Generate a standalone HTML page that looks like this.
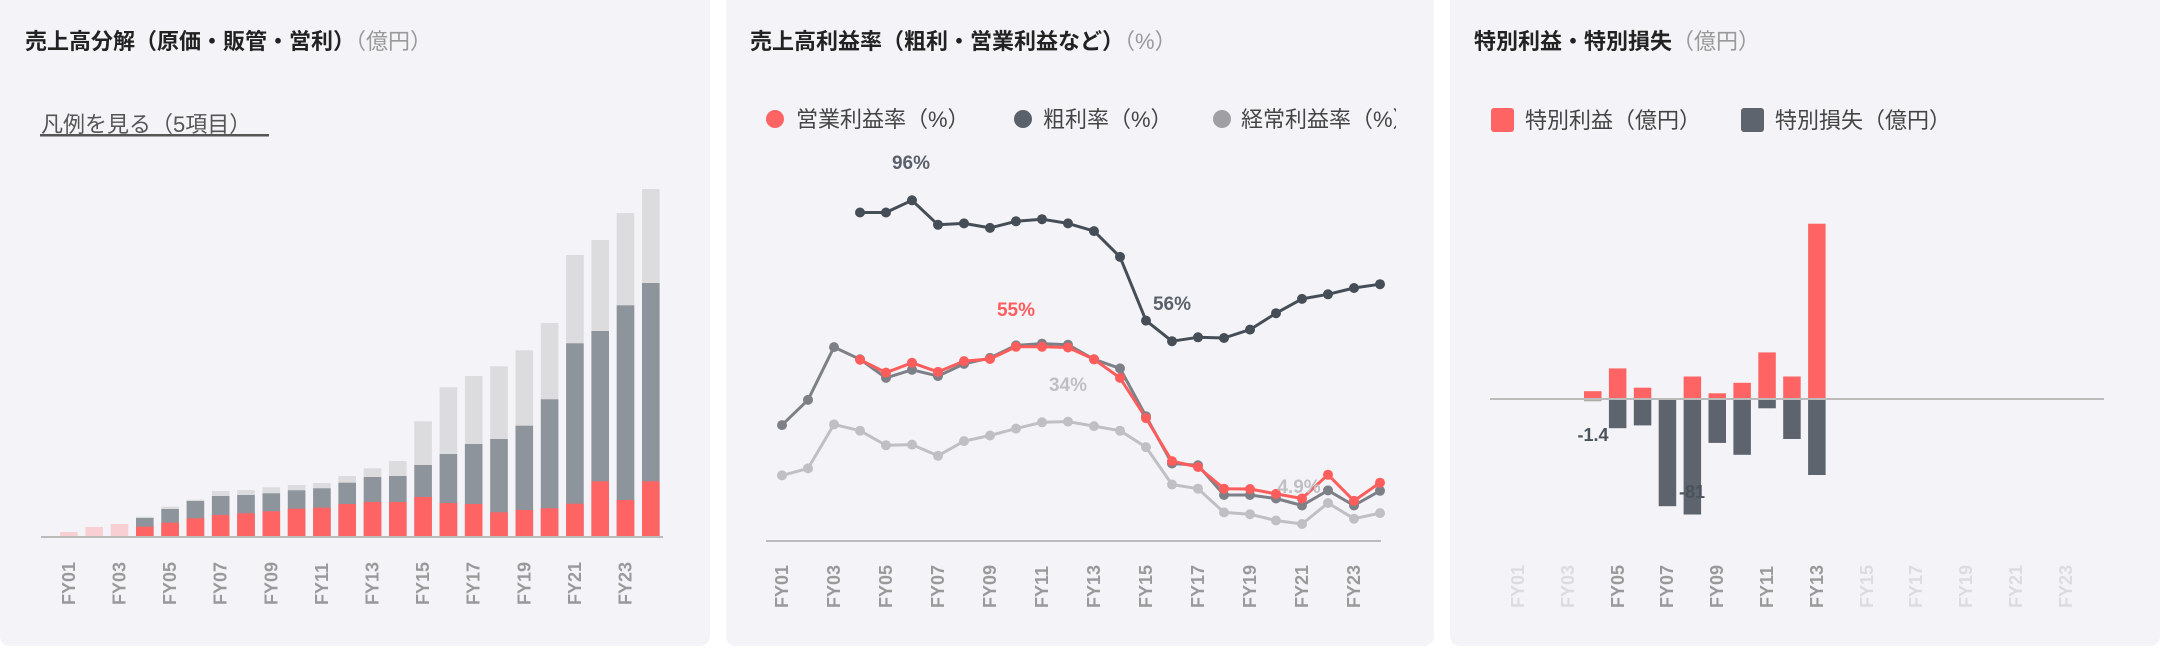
<!DOCTYPE html>
<html><head><meta charset="utf-8"><style>
html,body{margin:0;padding:0;background:#fff;}
svg{display:block;}
text{font-family:"Liberation Sans","Noto Sans CJK JP",sans-serif;}
</style></head><body>
<svg width="2160" height="648" viewBox="0 0 2160 648" xmlns="http://www.w3.org/2000/svg">
<rect x="0" y="-10" width="710" height="656" rx="10" fill="#f4f4f8"/>
<rect x="726" y="-10" width="708" height="656" rx="10" fill="#f4f4f8"/>
<rect x="1450" y="-10" width="710" height="656" rx="10" fill="#f4f4f8"/>

<!-- Panel 1 -->
<text x="25" y="49" font-size="22" font-weight="bold" fill="#222">売上高分解（原価・販管・営利）<tspan font-weight="normal" fill="#999">（億円）</tspan></text>
<text x="41" y="132" font-size="22" fill="#555">凡例を見る（5項目）</text>
<rect x="40" y="134" width="229" height="2.5" fill="#555"/>
<g fill="#f8d0d4">
<rect x="60.1" y="532" width="17.6" height="4.5"/><rect x="85.4" y="527" width="17.6" height="9.5"/><rect x="110.7" y="524" width="17.6" height="12.5"/>
</g>
<g fill="#dcdcde">
<rect x="136.0" y="516.7" width="17.6" height="20"/><rect x="161.3" y="506.7" width="17.6" height="30"/><rect x="186.6" y="499.7" width="17.6" height="37"/><rect x="211.9" y="491" width="17.6" height="46"/><rect x="237.2" y="490" width="17.6" height="47"/><rect x="262.5" y="487.3" width="17.6" height="49"/><rect x="287.8" y="485" width="17.6" height="52"/><rect x="313.1" y="483" width="17.6" height="54"/><rect x="338.4" y="476" width="17.6" height="61"/><rect x="363.7" y="468.3" width="17.6" height="68"/><rect x="389.0" y="461" width="17.6" height="76"/><rect x="414.3" y="421.3" width="17.6" height="115"/><rect x="439.6" y="387.3" width="17.6" height="149"/><rect x="464.9" y="376" width="17.6" height="160"/><rect x="490.2" y="366.3" width="17.6" height="170"/><rect x="515.5" y="350.3" width="17.6" height="186"/><rect x="540.8" y="323" width="17.6" height="213"/><rect x="566.1" y="255" width="17.6" height="281"/><rect x="591.4" y="240" width="17.6" height="296"/><rect x="616.7" y="213" width="17.6" height="323"/><rect x="642.0" y="189" width="17.6" height="347"/>
</g>
<g fill="#8e949b">
<rect x="136.0" y="518" width="17.6" height="18"/><rect x="161.3" y="509" width="17.6" height="27"/><rect x="186.6" y="501" width="17.6" height="35"/><rect x="211.9" y="496" width="17.6" height="40"/><rect x="237.2" y="495" width="17.6" height="41"/><rect x="262.5" y="493.3" width="17.6" height="43"/><rect x="287.8" y="490.3" width="17.6" height="46"/><rect x="313.1" y="488.3" width="17.6" height="48"/><rect x="338.4" y="482.7" width="17.6" height="54"/><rect x="363.7" y="477" width="17.6" height="60"/><rect x="389.0" y="476" width="17.6" height="61"/><rect x="414.3" y="465" width="17.6" height="72"/><rect x="439.6" y="454" width="17.6" height="83"/><rect x="464.9" y="444" width="17.6" height="93"/><rect x="490.2" y="439" width="17.6" height="98"/><rect x="515.5" y="425.7" width="17.6" height="111"/><rect x="540.8" y="399.3" width="17.6" height="137"/><rect x="566.1" y="343.3" width="17.6" height="193"/><rect x="591.4" y="331" width="17.6" height="205"/><rect x="616.7" y="305.3" width="17.6" height="231"/><rect x="642.0" y="283" width="17.6" height="253"/>
</g>
<g fill="#ff6464">
<rect x="136.0" y="526.7" width="17.6" height="10"/><rect x="161.3" y="522.7" width="17.6" height="14"/><rect x="186.6" y="518.3" width="17.6" height="18"/><rect x="211.9" y="515" width="17.6" height="21.5"/><rect x="237.2" y="513.3" width="17.6" height="23.2"/><rect x="262.5" y="511.3" width="17.6" height="25.2"/><rect x="287.8" y="508.7" width="17.6" height="27.8"/><rect x="313.1" y="507.7" width="17.6" height="28.8"/><rect x="338.4" y="504" width="17.6" height="32.5"/><rect x="363.7" y="502" width="17.6" height="34.5"/><rect x="389.0" y="502" width="17.6" height="34.5"/><rect x="414.3" y="497" width="17.6" height="39.5"/><rect x="439.6" y="503" width="17.6" height="33.5"/><rect x="464.9" y="504" width="17.6" height="32.5"/><rect x="490.2" y="512.3" width="17.6" height="24.2"/><rect x="515.5" y="510" width="17.6" height="26.5"/><rect x="540.8" y="508.3" width="17.6" height="28.2"/><rect x="566.1" y="503.7" width="17.6" height="32.8"/><rect x="591.4" y="481.3" width="17.6" height="55.2"/><rect x="616.7" y="500" width="17.6" height="36.5"/><rect x="642.0" y="481.3" width="17.6" height="55.2"/>
</g>
<rect x="41" y="536" width="622" height="2" fill="#bbb"/>
<g font-size="18" font-weight="bold" fill="#999">
<text transform="translate(75,605) rotate(-90)">FY01</text><text transform="translate(125.5,605) rotate(-90)">FY03</text><text transform="translate(176.1,605) rotate(-90)">FY05</text><text transform="translate(226.7,605) rotate(-90)">FY07</text><text transform="translate(277.3,605) rotate(-90)">FY09</text><text transform="translate(327.9,605) rotate(-90)">FY11</text><text transform="translate(378.5,605) rotate(-90)">FY13</text><text transform="translate(429.1,605) rotate(-90)">FY15</text><text transform="translate(479.7,605) rotate(-90)">FY17</text><text transform="translate(530.3,605) rotate(-90)">FY19</text><text transform="translate(580.9,605) rotate(-90)">FY21</text><text transform="translate(631.5,605) rotate(-90)">FY23</text>
</g>

<!-- Panel 2 -->
<text x="750" y="49" font-size="22" font-weight="bold" fill="#222">売上高利益率（粗利・営業利益など）<tspan font-weight="normal" fill="#999">（%）</tspan></text>
<svg x="726" y="95" width="670" height="50" overflow="hidden">
<g font-size="22" fill="#444">
<circle cx="49" cy="24" r="9" fill="#ff6464"/><text x="70" y="32">営業利益率（%）</text>
<circle cx="297" cy="24" r="9" fill="#5a616b"/><text x="317" y="32">粗利率（%）</text>
<circle cx="496" cy="24" r="9" fill="#a0a0a4"/><text x="515" y="32">経常利益率（%）</text>
</g>
</svg>
<rect x="766" y="540" width="615" height="2" fill="#bbb"/>
<g fill="none" stroke-width="3" stroke-linejoin="round">
<polyline stroke="#c0c0c4" points="782,475.4 808,468.4 834,424.4 860,430.7 886,445.3 912,444.6 938,455.8 964,441.1 990,435.5 1016,428.6 1042,422.3 1068,421.6 1094,426.1 1120,430.7 1146,447.1 1172,484.5 1198,488.7 1224,512.4 1250,514.2 1276,520.5 1302,524 1328,503 1354,518.7 1380,513.1"/>
<polyline stroke="#7d8086" points="782,425.1 808,399.9 834,347.1 860,359.3 886,377.9 912,369.8 938,376.1 964,363.9 990,357.9 1016,345.4 1042,343.6 1068,344.7 1094,359.3 1120,368.4 1146,416.3 1172,463.5 1198,465.3 1224,495 1250,495 1276,498.5 1302,505.5 1328,490.4 1354,505.5 1380,490.8"/>
<polyline stroke="#454d57" points="860,212.5 886,212.5 912,200.3 938,224.8 964,223.4 990,227.9 1016,221.3 1042,219.2 1068,223.4 1094,231.1 1120,256.9 1146,320.6 1172,341.2 1198,337.3 1224,338 1250,329.6 1276,313.2 1302,298.9 1328,294.3 1354,288 1380,284.2"/>
<polyline stroke="#ff5c5c" points="860,359.7 886,372.6 912,362.8 938,371.9 964,361.1 990,359 1016,346.8 1042,346.8 1068,347.5 1094,359.3 1120,377.9 1146,418.1 1172,461.1 1198,467 1224,488.7 1250,489 1276,493.9 1302,498.5 1328,474.7 1354,500.9 1380,482.7"/>
</g>
<g fill="#c0c0c4"><circle cx="782" cy="475.4" r="5"/><circle cx="808" cy="468.4" r="5"/><circle cx="834" cy="424.4" r="5"/><circle cx="860" cy="430.7" r="5"/><circle cx="886" cy="445.3" r="5"/><circle cx="912" cy="444.6" r="5"/><circle cx="938" cy="455.8" r="5"/><circle cx="964" cy="441.1" r="5"/><circle cx="990" cy="435.5" r="5"/><circle cx="1016" cy="428.6" r="5"/><circle cx="1042" cy="422.3" r="5"/><circle cx="1068" cy="421.6" r="5"/><circle cx="1094" cy="426.1" r="5"/><circle cx="1120" cy="430.7" r="5"/><circle cx="1146" cy="447.1" r="5"/><circle cx="1172" cy="484.5" r="5"/><circle cx="1198" cy="488.7" r="5"/><circle cx="1224" cy="512.4" r="5"/><circle cx="1250" cy="514.2" r="5"/><circle cx="1276" cy="520.5" r="5"/><circle cx="1302" cy="524" r="5"/><circle cx="1328" cy="503" r="5"/><circle cx="1354" cy="518.7" r="5"/><circle cx="1380" cy="513.1" r="5"/></g>
<g fill="#7d8086"><circle cx="782" cy="425.1" r="5"/><circle cx="808" cy="399.9" r="5"/><circle cx="834" cy="347.1" r="5"/><circle cx="860" cy="359.3" r="5"/><circle cx="886" cy="377.9" r="5"/><circle cx="912" cy="369.8" r="5"/><circle cx="938" cy="376.1" r="5"/><circle cx="964" cy="363.9" r="5"/><circle cx="990" cy="357.9" r="5"/><circle cx="1016" cy="345.4" r="5"/><circle cx="1042" cy="343.6" r="5"/><circle cx="1068" cy="344.7" r="5"/><circle cx="1094" cy="359.3" r="5"/><circle cx="1120" cy="368.4" r="5"/><circle cx="1146" cy="416.3" r="5"/><circle cx="1172" cy="463.5" r="5"/><circle cx="1198" cy="465.3" r="5"/><circle cx="1224" cy="495" r="5"/><circle cx="1250" cy="495" r="5"/><circle cx="1276" cy="498.5" r="5"/><circle cx="1302" cy="505.5" r="5"/><circle cx="1328" cy="490.4" r="5"/><circle cx="1354" cy="505.5" r="5"/><circle cx="1380" cy="490.8" r="5"/></g>
<g fill="#454d57"><circle cx="860" cy="212.5" r="5"/><circle cx="886" cy="212.5" r="5"/><circle cx="912" cy="200.3" r="5"/><circle cx="938" cy="224.8" r="5"/><circle cx="964" cy="223.4" r="5"/><circle cx="990" cy="227.9" r="5"/><circle cx="1016" cy="221.3" r="5"/><circle cx="1042" cy="219.2" r="5"/><circle cx="1068" cy="223.4" r="5"/><circle cx="1094" cy="231.1" r="5"/><circle cx="1120" cy="256.9" r="5"/><circle cx="1146" cy="320.6" r="5"/><circle cx="1172" cy="341.2" r="5"/><circle cx="1198" cy="337.3" r="5"/><circle cx="1224" cy="338" r="5"/><circle cx="1250" cy="329.6" r="5"/><circle cx="1276" cy="313.2" r="5"/><circle cx="1302" cy="298.9" r="5"/><circle cx="1328" cy="294.3" r="5"/><circle cx="1354" cy="288" r="5"/><circle cx="1380" cy="284.2" r="5"/></g>
<g fill="#ff5c5c"><circle cx="860" cy="359.7" r="5"/><circle cx="886" cy="372.6" r="5"/><circle cx="912" cy="362.8" r="5"/><circle cx="938" cy="371.9" r="5"/><circle cx="964" cy="361.1" r="5"/><circle cx="990" cy="359" r="5"/><circle cx="1016" cy="346.8" r="5"/><circle cx="1042" cy="346.8" r="5"/><circle cx="1068" cy="347.5" r="5"/><circle cx="1094" cy="359.3" r="5"/><circle cx="1120" cy="377.9" r="5"/><circle cx="1146" cy="418.1" r="5"/><circle cx="1172" cy="461.1" r="5"/><circle cx="1198" cy="467" r="5"/><circle cx="1224" cy="488.7" r="5"/><circle cx="1250" cy="489" r="5"/><circle cx="1276" cy="493.9" r="5"/><circle cx="1302" cy="498.5" r="5"/><circle cx="1328" cy="474.7" r="5"/><circle cx="1354" cy="500.9" r="5"/><circle cx="1380" cy="482.7" r="5"/></g>
<g font-size="19" font-weight="bold" text-anchor="middle">
<text x="911" y="169" fill="#5a616b">96%</text>
<text x="1016" y="316" fill="#ff5c5c">55%</text>
<text x="1068" y="391" fill="#c0c0c4">34%</text>
<text x="1172" y="310" fill="#5a616b">56%</text>
<text x="1299" y="493" fill="#c0c0c4">4.9%</text>
</g>
<g font-size="18" font-weight="bold" fill="#999">
<text transform="translate(788,608) rotate(-90)">FY01</text><text transform="translate(840,608) rotate(-90)">FY03</text><text transform="translate(892,608) rotate(-90)">FY05</text><text transform="translate(944,608) rotate(-90)">FY07</text><text transform="translate(996,608) rotate(-90)">FY09</text><text transform="translate(1048,608) rotate(-90)">FY11</text><text transform="translate(1100,608) rotate(-90)">FY13</text><text transform="translate(1152,608) rotate(-90)">FY15</text><text transform="translate(1204,608) rotate(-90)">FY17</text><text transform="translate(1256,608) rotate(-90)">FY19</text><text transform="translate(1308,608) rotate(-90)">FY21</text><text transform="translate(1360,608) rotate(-90)">FY23</text>
</g>

<!-- Panel 3 -->
<text x="1474" y="49" font-size="22" font-weight="bold" fill="#222">特別利益・特別損失<tspan font-weight="normal" fill="#999">（億円）</tspan></text>
<g font-size="22" fill="#444">
<rect x="1491" y="108" width="23" height="24" rx="3" fill="#ff6464"/><text x="1525" y="128">特別利益（億円）</text>
<rect x="1741" y="108" width="23" height="24" rx="3" fill="#5d646d"/><text x="1775" y="128">特別損失（億円）</text>
</g>
<g fill="#ff6464">
<rect x="1584" y="391.2" width="17.5" height="7.8"/><rect x="1608.9" y="368.4" width="17.5" height="30.6"/><rect x="1633.8" y="387.7" width="17.5" height="11.3"/><rect x="1683.6" y="376.5" width="17.5" height="22.5"/><rect x="1708.5" y="393.3" width="17.5" height="5.7"/><rect x="1733.4" y="382.8" width="17.5" height="16.2"/><rect x="1758.3" y="352.4" width="17.5" height="46.6"/><rect x="1783.2" y="376.5" width="17.5" height="22.5"/><rect x="1808.1" y="223.7" width="17.5" height="175.3"/>
</g>
<g fill="#5d646d">
<rect x="1584" y="399" width="17.5" height="2.3" fill="#aaa"/><rect x="1608.9" y="399" width="17.5" height="29.2"/><rect x="1633.8" y="399" width="17.5" height="26.4"/><rect x="1658.7" y="399" width="17.5" height="107.2"/><rect x="1683.6" y="399" width="17.5" height="115.5"/><rect x="1708.5" y="399" width="17.5" height="43.9"/><rect x="1733.4" y="399" width="17.5" height="55.8"/><rect x="1758.3" y="399" width="17.5" height="9.3"/><rect x="1783.2" y="399" width="17.5" height="40"/><rect x="1808.1" y="399" width="17.5" height="76"/>
</g>
<rect x="1490" y="398" width="614" height="2" fill="#bbb"/>
<g font-size="18" font-weight="bold" fill="#4a525c" text-anchor="middle">
<text x="1593" y="441">-1.4</text>
<text x="1692" y="498">-81</text>
</g>
<g font-size="18" font-weight="bold">
<text transform="translate(1524,608) rotate(-90)" fill="#dcdce0">FY01</text><text transform="translate(1574,608) rotate(-90)" fill="#dcdce0">FY03</text><text transform="translate(1624,608) rotate(-90)" fill="#999">FY05</text><text transform="translate(1673,608) rotate(-90)" fill="#999">FY07</text><text transform="translate(1723,608) rotate(-90)" fill="#999">FY09</text><text transform="translate(1773,608) rotate(-90)" fill="#999">FY11</text><text transform="translate(1823,608) rotate(-90)" fill="#999">FY13</text><text transform="translate(1873,608) rotate(-90)" fill="#dcdce0">FY15</text><text transform="translate(1922,608) rotate(-90)" fill="#dcdce0">FY17</text><text transform="translate(1972,608) rotate(-90)" fill="#dcdce0">FY19</text><text transform="translate(2022,608) rotate(-90)" fill="#dcdce0">FY21</text><text transform="translate(2072,608) rotate(-90)" fill="#dcdce0">FY23</text>
</g>
</svg>
</body></html>
